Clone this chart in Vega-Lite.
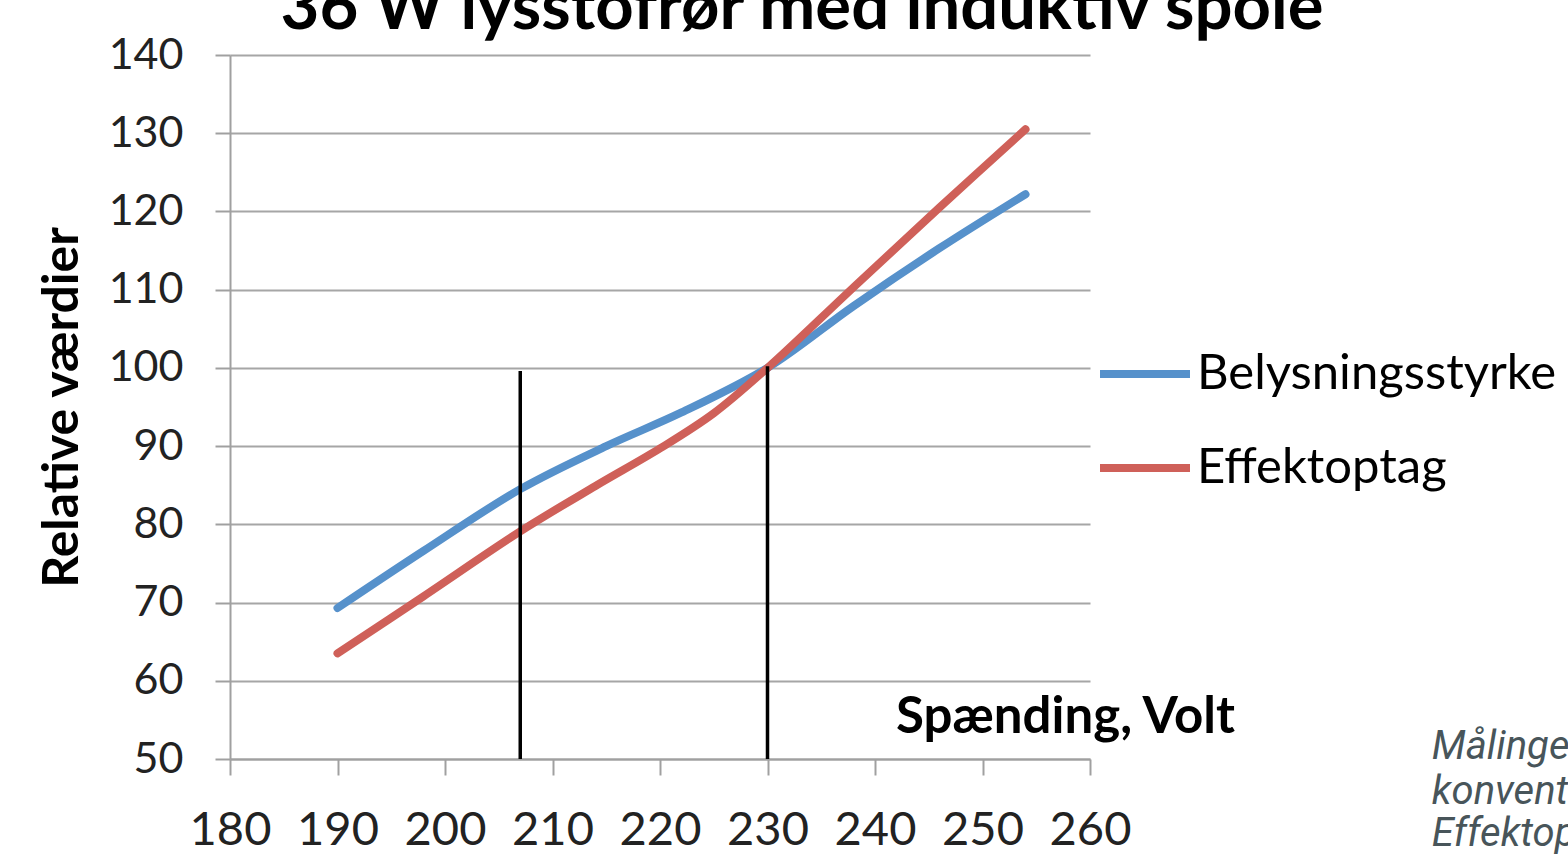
{
  "$schema": "https://vega.github.io/schema/vega-lite/v6.json",
  "autosize": {"type": "none"},
  "width": 860,
  "height": 704,
  "padding": {"left": 230, "top": 55, "right": 478, "bottom": 98},
  "background": "white",
  "title": {
    "text": "36 W lysstofrør med induktiv spole",
    "font": "Lato",
    "fontWeight": "bold",
    "fontSize": 67,
    "color": "black",
    "anchor": "middle",
    "frame": "group",
    "dx": 142,
    "dy": 62,
    "baseline": "alphabetic",
    "offset": 0
  },
  "config": {
    "view": {"stroke": null},
    "axis": {
      "domainColor": "#a0a0a0",
      "domainWidth": 2,
      "tickColor": "#a0a0a0",
      "tickWidth": 2,
      "gridColor": "#a6a6a6",
      "gridWidth": 2,
      "labelFont": "Lato",
      "labelColor": "#222222",
      "titleFont": "Lato",
      "titleColor": "black",
      "titleFontWeight": "bold"
    }
  },
  "layer": [
    {
      "data": {
        "values": [
          {"Spænding": 190, "Værdi": 69.3, "Serie": "Belysningsstyrke"},
          {"Spænding": 198, "Værdi": 76.6, "Serie": "Belysningsstyrke"},
          {"Spænding": 207, "Værdi": 84.5, "Serie": "Belysningsstyrke"},
          {"Spænding": 215, "Værdi": 90.0, "Serie": "Belysningsstyrke"},
          {"Spænding": 222, "Værdi": 94.3, "Serie": "Belysningsstyrke"},
          {"Spænding": 230, "Værdi": 100.0, "Serie": "Belysningsstyrke"},
          {"Spænding": 238, "Værdi": 107.9, "Serie": "Belysningsstyrke"},
          {"Spænding": 246, "Værdi": 115.3, "Serie": "Belysningsstyrke"},
          {"Spænding": 254, "Værdi": 122.2, "Serie": "Belysningsstyrke"},
          {"Spænding": 190, "Værdi": 63.5, "Serie": "Effektoptag"},
          {"Spænding": 198, "Værdi": 70.8, "Serie": "Effektoptag"},
          {"Spænding": 207, "Værdi": 79.1, "Serie": "Effektoptag"},
          {"Spænding": 214, "Værdi": 84.9, "Serie": "Effektoptag"},
          {"Spænding": 220, "Værdi": 89.7, "Serie": "Effektoptag"},
          {"Spænding": 225, "Værdi": 94.2, "Serie": "Effektoptag"},
          {"Spænding": 230, "Værdi": 100.0, "Serie": "Effektoptag"},
          {"Spænding": 238, "Værdi": 110.3, "Serie": "Effektoptag"},
          {"Spænding": 246, "Værdi": 120.5, "Serie": "Effektoptag"},
          {"Spænding": 254, "Værdi": 130.5, "Serie": "Effektoptag"}
        ]
      },
      "mark": {"type": "line", "interpolate": "catmull-rom", "strokeWidth": 8, "strokeCap": "round"},
      "encoding": {
        "x": {
          "field": "Spænding",
          "type": "quantitative",
          "scale": {"domain": [180, 260], "nice": false, "zero": false},
          "axis": {
            "values": [180, 190, 200, 210, 220, 230, 240, 250, 260],
            "grid": false,
            "tickSize": 16,
            "labelFontSize": 47,
            "labelPadding": 32,
            "labelOverlap": false,
            "labelBound": false,
            "labelFlush": false,
            "title": "Spænding, Volt",
            "titleFontSize": 51,
            "titleX": 835,
            "titleY": -42,
            "titleAlign": "center",
            "titleBaseline": "middle"
          }
        },
        "y": {
          "field": "Værdi",
          "type": "quantitative",
          "scale": {"domain": [50, 140], "nice": false, "zero": false},
          "axis": {
            "values": [50, 60, 70, 80, 90, 100, 110, 120, 130, 140],
            "grid": true,
            "tickSize": 15,
            "labelFontSize": 43,
            "labelPadding": 32,
            "labelOverlap": false,
            "labelBound": false,
            "title": "Relative værdier",
            "titleFontSize": 50,
            "titleX": -168,
            "titleBaseline": "middle"
          }
        },
        "color": {
          "field": "Serie",
          "type": "nominal",
          "scale": {"domain": ["Belysningsstyrke", "Effektoptag"], "range": ["#5691cb", "#cf6059"]},
          "legend": {
            "title": null,
            "orient": "none",
            "legendX": 866,
            "legendY": 270,
            "symbolType": "stroke",
            "symbolSize": 8100,
            "symbolStrokeWidth": 8,
            "labelFont": "Lato",
            "labelFontSize": 49,
            "labelLimit": 0,
            "labelColor": "black",
            "labelOffset": 3,
            "rowPadding": 20
          }
        }
      }
    },
    {
      "data": {
        "values": [
          {"Spænding": 207, "Fra": 50, "Til": 99.6},
          {"Spænding": 230, "Fra": 50, "Til": 100.2}
        ]
      },
      "mark": {"type": "rule", "color": "black", "strokeWidth": 3.5},
      "encoding": {
        "x": {"field": "Spænding", "type": "quantitative"},
        "y": {"field": "Fra", "type": "quantitative"},
        "y2": {"field": "Til"}
      }
    },
    {
      "data": {
        "values": [
          {"Spænding": 291.8, "Værdi": 51.5, "Tekst": "Målinger på"},
          {"Spænding": 291.8, "Værdi": 45.8, "Tekst": "konventionel"},
          {"Spænding": 291.8, "Værdi": 40.4, "Tekst": "Effektoptag"}
        ]
      },
      "mark": {"type": "text", "align": "left", "baseline": "middle", "font": "Roboto", "fontStyle": "italic", "fontSize": 40, "color": "#48555a"},
      "encoding": {
        "x": {"field": "Spænding", "type": "quantitative"},
        "y": {"field": "Værdi", "type": "quantitative"},
        "text": {"field": "Tekst"}
      }
    }
  ]
}
